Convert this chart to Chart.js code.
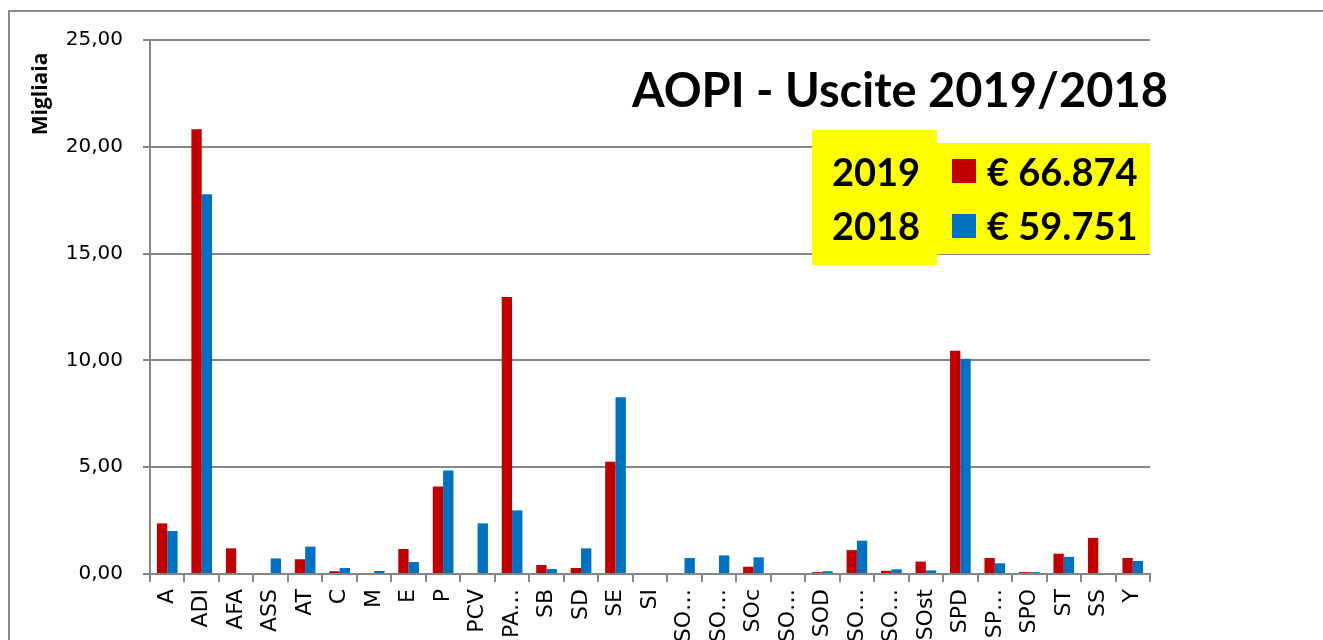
<!DOCTYPE html>
<html>
<head>
<meta charset="utf-8">
<script src="https://cdn.jsdelivr.net/npm/chart.js@4"></script>
<style>
  html,body{margin:0;padding:0;background:#fff;overflow:hidden;}
  #wrap{position:relative;width:1323px;height:640px;}
  #frame{position:absolute;left:8px;top:10px;width:1330px;height:700px;border:2px solid #8a8a8a;box-sizing:border-box;}
  canvas{position:absolute;left:0;top:0;}
  .t{position:absolute;font-family:Lato,"Open Sans",sans-serif;font-weight:bold;color:#000;white-space:nowrap;}
  #title{left:632px;top:64px;font-size:47px;line-height:50px;}
  #boxL{position:absolute;left:812px;top:130px;width:125px;height:135px;background:#ffff00;}
  #boxR{position:absolute;left:937px;top:143px;width:213px;height:111px;background:#ffff00;}
  .yr{font-size:38px;line-height:40px;}
  .val{font-size:38px;line-height:40px;}
  .sq{position:absolute;width:24px;height:24px;}
</style>
</head>
<body>
<div id="wrap">
  <canvas id="c" width="1323" height="640"></canvas>
  <div id="frame"></div>
  <div id="boxL"></div>
  <div id="boxR"></div>
  <div class="t" id="title">AOPI - Uscite 2019/2018</div>
  <div class="t yr" style="left:832px;top:151px;">2019</div>
  <div class="t yr" style="left:832px;top:205px;">2018</div>
  <div class="sq" style="left:952px;top:159px;background:#C00000;"></div>
  <div class="sq" style="left:952px;top:214px;background:#0070C0;"></div>
  <div class="t val" style="left:987px;top:151px;">€ 66.874</div>
  <div class="t val" style="left:987px;top:205px;">€ 59.751</div>
</div>
<script>
const categories = ["A","ADI","AFA","ASS","AT","C","M","E","P","PCV","PA…","SB","SD","SE","SI","SO…","SO…","SOc","SO…","SOD","SO…","SO…","SOst","SPD","SP…","SPO","ST","SS","Y"];
const values2019 = [2.37,20.82,1.20,0,0.69,0.13,0,1.17,4.10,0,12.97,0.42,0.28,5.26,0,0,0,0.34,0,0.09,1.12,0.15,0.58,10.45,0.75,0.09,0.95,1.69,0.75];
const values2018 = [2.01,17.78,0,0.73,1.28,0.28,0.14,0.56,4.84,2.37,2.98,0.23,1.20,8.27,0,0.75,0.87,0.78,0,0.13,1.56,0.22,0.17,10.08,0.50,0.09,0.80,0,0.61];
const yTicks = [0,5,10,15,20,25];
const seriesNames = ["2019","2018"];

const grey = '#868686';
const yTitlePlugin = {
  id:'yTitle',
  afterDraw(chart){
    const ctx = chart.ctx;
    ctx.save();
    ctx.translate(41, 94);
    ctx.rotate(-Math.PI/2);
    ctx.font = 'bold 21px "Open Sans"';
    ctx.fillStyle = '#000';
    ctx.textAlign = 'center';
    ctx.textBaseline = 'middle';
    ctx.fillText('Migliaia', 0, 0);
    ctx.restore();
  }
};

new Chart(document.getElementById('c'), {
  type:'bar',
  data:{
    labels: categories,
    datasets:[
      {label:seriesNames[0], data:values2019, backgroundColor:'#C00000', borderWidth:0, categoryPercentage:0.6, barPercentage:1.0},
      {label:seriesNames[1], data:values2018, backgroundColor:'#0070C0', borderWidth:0, categoryPercentage:0.6, barPercentage:1.0}
    ]
  },
  options:{
    responsive:false,
    animation:false,
    devicePixelRatio:1,
    layout:{padding:{left:20, top:40, right:173, bottom:0}},
    plugins:{legend:{display:false}, title:{display:false}, tooltip:{enabled:false}},
    scales:{
      x:{
        grid:{display:true, drawOnChartArea:false, drawTicks:true, tickLength:8, color:grey, lineWidth:2, offset:true},
        border:{color:grey, width:2},
        ticks:{color:'#000', font:{family:'"DejaVu Sans"', size:22}, minRotation:90, maxRotation:90, autoSkip:false, padding:7},
        afterFit(s){ s.height = 66; }
      },
      y:{
        min:0, max:25,
        afterBuildTicks(s){ s.ticks = yTicks.map(v=>({value:v})); },
        grid:{color:grey, lineWidth:2, tickLength:7, drawTicks:true},
        border:{color:grey, width:2},
        ticks:{color:'#000', font:{family:'"DejaVu Sans"', size:20}, padding:20,
          callback:(v)=>v.toFixed(2).replace('.',',')},
        afterFit(s){ s.width = 130; }
      }
    }
  },
  plugins:[yTitlePlugin]
});
</script>
</body>
</html>
